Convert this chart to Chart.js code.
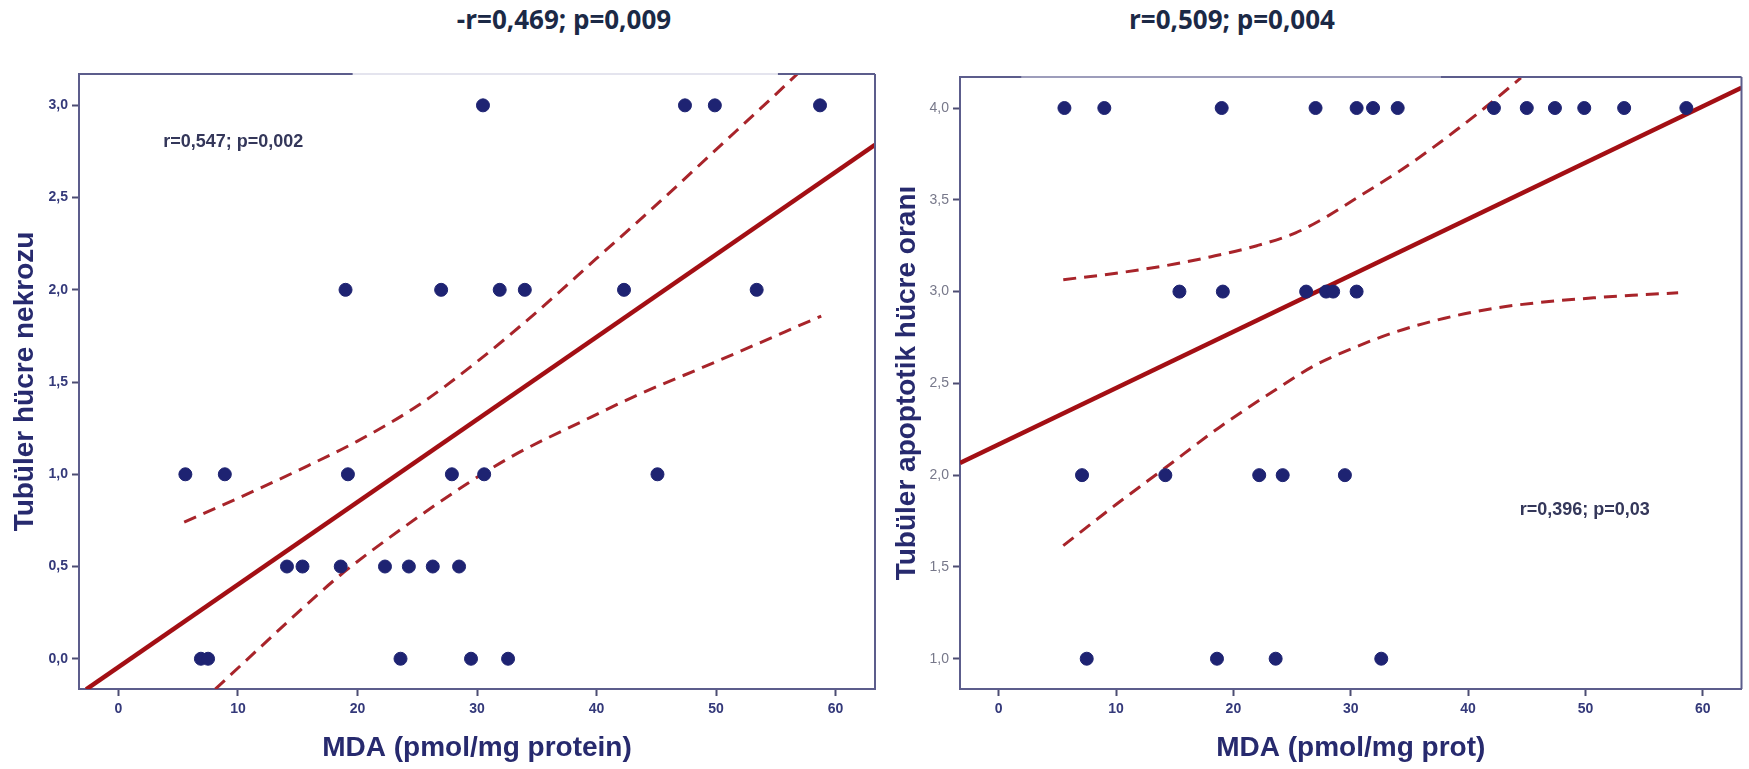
<!DOCTYPE html>
<html>
<head>
<meta charset="utf-8">
<script src="https://cdn.jsdelivr.net/npm/chart.js@4.4.0/dist/chart.umd.min.js"></script>
<style>
  html, body { margin: 0; padding: 0; background: #fff; }
  body { width: 1749px; height: 769px; position: relative; overflow: hidden; }
  .heading {
    position: absolute; top: 1px; transform: translateX(-50%);
    font-family: "Open Sans", "Noto Sans", sans-serif; font-weight: 700;
    font-size: 26px; color: #1b2946; white-space: nowrap;
  }
  .box { position: absolute; top: 0; height: 769px; }
</style>
</head>
<body>
<div class="heading" style="left:564px">-r=0,469; p=0,009</div>
<div class="heading" style="left:1232px">r=0,509; p=0,004</div>
<div class="box" style="left:0;width:900px"><canvas id="necrosis"></canvas></div>
<div class="box" style="left:880px;width:869px"><canvas id="apoptosis"></canvas></div>

<script>
// tick labels
const xTicks = [0, 10, 20, 30, 40, 50, 60];
const necTicks = [0, 0.5, 1, 1.5, 2, 2.5, 3];
const apoTicks = [1, 1.5, 2, 2.5, 3, 3.5, 4];

// left panel: MDA vs tubular necrosis score
const necMda = [30.5, 47.4, 49.9, 58.7,
  19.0, 27.0, 31.9, 34.0, 42.3, 53.4,
  5.6, 8.9, 19.2, 27.9, 30.6, 45.1,
  14.1, 15.4, 18.6, 22.3, 24.3, 26.3, 28.5,
  6.9, 7.5, 23.6, 29.5, 32.6];
const necScore = [3, 3, 3, 3,
  2, 2, 2, 2, 2, 2,
  1, 1, 1, 1, 1, 1,
  0.5, 0.5, 0.5, 0.5, 0.5, 0.5, 0.5,
  0, 0, 0, 0, 0];
const necFitX = [-2.7, 63.3];
const necFitY = [-0.166, 2.786];
const necUpX = [5.5, 10, 15, 20, 25, 30, 35, 40, 45, 50, 55, 56.8];
const necUpY = [0.74, 0.87, 1.02, 1.18, 1.37, 1.61, 1.88, 2.17, 2.46, 2.76, 3.06, 3.17];
const necLoX = [8.1, 12, 15, 18.5, 23.6, 29.2, 33, 38.9, 43.1, 50, 58.8];
const necLoY = [-0.165, 0.07, 0.25, 0.45, 0.70, 0.95, 1.10, 1.29, 1.42, 1.61, 1.858];

// right panel: MDA vs tubular apoptotic cell ratio
const apoMda = [5.6, 9.0, 19.0, 27.0, 30.5, 31.9, 34.0, 42.2, 45.0, 47.4, 49.9, 53.3, 58.6,
  15.4, 19.1, 26.2, 27.9, 28.5, 30.5,
  7.1, 14.2, 22.2, 24.2, 29.5,
  7.5, 18.6, 23.6, 32.6];
const apoScore = [4, 4, 4, 4, 4, 4, 4, 4, 4, 4, 4, 4, 4,
  3, 3, 3, 3, 3, 3,
  2, 2, 2, 2, 2,
  1, 1, 1, 1];
const apoFitX = [-3.3, 63.3];
const apoFitY = [2.066, 4.11];
const apoUpX = [5.5, 10, 15, 18.1, 22, 25.3, 28, 31, 34, 36.7, 39, 41.4, 44.5];
const apoUpY = [3.065, 3.10, 3.15, 3.19, 3.25, 3.32, 3.41, 3.53, 3.65, 3.77, 3.88, 4.0, 4.164];
const apoLoX = [5.5, 10, 14.2, 18.8, 23.7, 27, 30.5, 33.8, 38, 42.3, 46, 50.7, 54, 57.9];
const apoLoY = [1.616, 1.84, 2.04, 2.26, 2.47, 2.60, 2.70, 2.78, 2.855, 2.91, 2.94, 2.966, 2.98, 2.993];

const NAVY = "#1e2372";
const RED = "#a30f14";
const DASH_RED = "#a8242a";
const AXIS = "#5c5d8c";
const TITLE = "#272a6e";

const pts = (xs, ys) => xs.map((x, i) => ({ x: x, y: ys[i] }));
const comma = (v) => v.toFixed(1).replace(".", ",");

// right edge, top edge (in pieces, like the scan) and the r/p note
const framePlugin = {
  id: "frame",
  afterDatasetsDraw(chart, args, opts) {
    const { ctx, chartArea: a } = chart;
    ctx.save();
    ctx.lineWidth = 2;
    ctx.strokeStyle = AXIS;
    ctx.beginPath();
    ctx.moveTo(a.right, a.top);
    ctx.lineTo(a.right, a.bottom);
    ctx.stroke();
    opts.top.forEach(([f0, f1, col]) => {
      ctx.strokeStyle = col;
      ctx.beginPath();
      ctx.moveTo(a.left + f0 * (a.right - a.left), a.top);
      ctx.lineTo(a.left + f1 * (a.right - a.left), a.top);
      ctx.stroke();
    });
    ctx.font = 'bold 18px "Liberation Sans", Arial, sans-serif';
    ctx.fillStyle = "#34375a";
    ctx.textBaseline = "middle";
    ctx.fillText(opts.note,
      chart.scales.x.getPixelForValue(opts.noteAt[0]),
      chart.scales.y.getPixelForValue(opts.noteAt[1]));
    ctx.restore();
  }
};

function makeChart(id, o) {
  const tickFont = { family: '"Liberation Sans", Arial, sans-serif', size: 14, weight: "bold" };
  const titleFont = { family: '"Liberation Sans", Arial, sans-serif', size: 28, weight: "bold" };
  return new Chart(document.getElementById(id), {
    type: "scatter",
    data: {
      datasets: [
        {
          data: pts(o.x, o.y),
          backgroundColor: NAVY, borderColor: NAVY,
          pointRadius: 6.5, pointHoverRadius: 6.5
        },
        {
          data: pts(o.fitX, o.fitY), showLine: true,
          borderColor: RED, borderWidth: 4.5, pointRadius: 0
        },
        {
          data: pts(o.upX, o.upY), showLine: true, cubicInterpolationMode: "monotone",
          borderColor: DASH_RED, borderWidth: 3, borderDash: [13, 8], pointRadius: 0
        },
        {
          data: pts(o.loX, o.loY), showLine: true, cubicInterpolationMode: "monotone",
          borderColor: DASH_RED, borderWidth: 3, borderDash: [13, 8], pointRadius: 0
        }
      ]
    },
    options: {
      responsive: true,
      maintainAspectRatio: false,
      animation: false,
      layout: { padding: o.pad },
      plugins: {
        legend: { display: false },
        tooltip: { enabled: false },
        frame: { top: o.topEdge, note: o.note, noteAt: o.noteAt }
      },
      scales: {
        x: {
          type: "linear", min: -3.3, max: 63.3,
          afterBuildTicks: (s) => { s.ticks = xTicks.map((v) => ({ value: v })); },
          afterFit: (s) => { s.height = 80; },
          border: { display: true, color: AXIS, width: 2 },
          grid: { drawOnChartArea: false, drawTicks: true, tickLength: 7, tickColor: "#4c4d72", tickWidth: 2 },
          ticks: { color: "#34397a", font: tickFont, padding: 5, maxRotation: 0, callback: (v) => String(v) },
          title: { display: true, text: o.xTitle, color: TITLE, font: titleFont, padding: { top: 0, bottom: 4 } }
        },
        y: {
          type: "linear", min: o.yMin, max: o.yMax,
          afterBuildTicks: (s) => { s.ticks = o.yTicks.map((v) => ({ value: v })); },
          afterFit: (s) => { s.width = o.yWidth; },
          border: { display: true, color: AXIS, width: 2 },
          grid: { drawOnChartArea: false, drawTicks: true, tickLength: 7, tickColor: "#4c4d72", tickWidth: 2 },
          ticks: { color: o.yTickColor, font: Object.assign({}, tickFont, { weight: o.yTickWeight }), padding: 4, callback: comma },
          title: { display: true, text: o.yTitle, color: TITLE, font: titleFont, padding: { top: o.yTitlePad, bottom: 0 } }
        }
      }
    },
    plugins: [framePlugin]
  });
}

makeChart("necrosis", {
  x: necMda, y: necScore,
  fitX: necFitX, fitY: necFitY, upX: necUpX, upY: necUpY, loX: necLoX, loY: necLoY,
  yMin: -0.164, yMax: 3.17, yTicks: necTicks, yWidth: 79, yTitlePad: 8,
  yTickColor: "#34397a", yTickWeight: "bold",
  pad: { left: 0, top: 74, right: 25, bottom: 0 },
  xTitle: "MDA (pmol/mg protein)", yTitle: "Tubüler hücre nekrozu",
  note: "r=0,547; p=0,002", noteAt: [3.74, 2.80],
  topEdge: [[0, 0.344, AXIS], [0.344, 0.878, "#e4e4ee"], [0.878, 1, AXIS]]
});

makeChart("apoptosis", {
  x: apoMda, y: apoScore,
  fitX: apoFitX, fitY: apoFitY, upX: apoUpX, upY: apoUpY, loX: apoLoX, loY: apoLoY,
  yMin: 0.835, yMax: 4.169, yTicks: apoTicks, yWidth: 80, yTitlePad: 10,
  yTickColor: "#77788a", yTickWeight: "normal",
  pad: { left: 0, top: 77, right: 1, bottom: 0 },
  xTitle: "MDA (pmol/mg prot)", yTitle: "Tubüler apoptotik hücre oranı",
  note: "r=0,396; p=0,03", noteAt: [44.4, 1.81],
  topEdge: [[0, 0.079, AXIS], [0.079, 0.615, "#9d9dbb"], [0.615, 1, AXIS]]
});
</script>
</body>
</html>
